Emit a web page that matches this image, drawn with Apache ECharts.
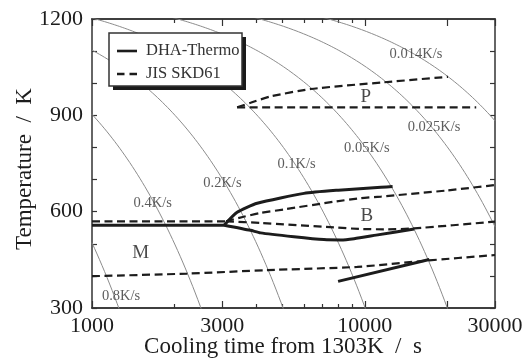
<!DOCTYPE html>
<html>
<head>
<meta charset="utf-8">
<script src="https://cdn.jsdelivr.net/npm/echarts@6/dist/echarts.min.js"></script>
<style>
  html, body { margin: 0; padding: 0; background: #fff; }
  #chart { width: 532px; height: 362px; }
</style>
</head>
<body>
<div id="chart"></div>
<script>
// Constant-rate cooling curves from 1303 K (rates in K/s)
const startTemp = 1303;
const coolingRates = [0.8, 0.4, 0.2, 0.1, 0.05, 0.025, 0.014];

// DHA-Thermo transformation lines, [time s, temperature K]
const dhaMs = [[1000, 558], [3050, 558]];
const dhaBs = [[3050, 558], [3404, 598], [4033, 626], [5987, 657], [8000, 667], [11460, 676], [12640, 678]];
const dhaBf = [[3050, 558], [3811, 542], [4146, 534], [5495, 522], [7080, 513], [8165, 512], [9135, 516], [11000, 527], [15170, 546]];
const dhaLow = [[7980, 383], [17230, 451]];

// JIS SKD61 transformation lines
const jisMs = [[1000, 570], [3100, 570]];
const jisBs = [[3100, 570], [3596, 584], [4146, 596], [5053, 607], [7710, 631], [9660, 642], [11460, 647], [20000, 666], [30000, 683]];
const jisBf = [[3100, 570], [4146, 565], [7710, 551], [9660, 546], [12000, 545], [15170, 548], [30000, 569]];
const jisMf = [[1000, 399], [2229, 407], [4387, 418], [9380, 428], [16540, 447], [30000, 465]];
const jisPs = [[3404, 925], [25600, 925]];
const jisPf = [[3404, 925], [3811, 939], [4515, 959], [6335, 982], [11770, 1003], [20170, 1020]];

// Text annotations anchored in data space
const rateLabels = [
  ['0.014K/s', 15400, 1090], ['0.025K/s', 17940, 862], ['0.05K/s', 10170, 799],
  ['0.1K/s', 5623, 749], ['0.2K/s', 3006, 690], ['0.4K/s', 1669, 627], ['0.8K/s', 1278, 337]
];
const phaseLabels = [['M', 1507, 471], ['B', 10170, 587], ['P', 10085, 958]];

// Axis ticks
const xMajorTicks = [1000, 3000, 10000, 20000, 30000];
const xMinorTicks = [2000, 4000, 5000, 6000, 7000, 8000, 9000];
const xTickLabels = [1000, 3000, 10000, 30000];
const yTickLabels = [300, 600, 900, 1200];

const FONT = "'Liberation Serif', 'DejaVu Serif', serif";
const INK = '#1c1c1c';

// Sample times across the axis range for drawing each cooling curve
function coolingCurve(rate) {
  const pts = [];
  const n = 160;
  const lo = Math.log10(1000), hi = Math.log10(30000);
  for (let i = 0; i <= n; i++) {
    const t = Math.pow(10, lo + (hi - lo) * i / n);
    pts.push([t, startTemp - rate * t]);
  }
  return pts;
}

function xAxisDef(position, ticks, len, labels) {
  return {
    type: 'log', logBase: 10, min: 1000, max: 30000, position: position,
    axisLine: { show: true, lineStyle: { color: '#333', width: 1.5 } },
    axisTick: { show: true, inside: true, length: len, customValues: ticks, lineStyle: { color: '#333', width: 1.2 } },
    axisLabel: labels ? {
      show: true, customValues: labels, margin: 7, color: INK, fontFamily: FONT, fontSize: 22,
      formatter: v => String(Math.round(v))
    } : { show: false },
    splitLine: { show: false }, minorTick: { show: false }
  };
}

function yAxisDef(position, labels) {
  return {
    type: 'value', min: 300, max: 1200, interval: 100, position: position,
    axisLine: { show: true, lineStyle: { color: '#333', width: 1.5 } },
    axisTick: { show: true, inside: true, length: 5, lineStyle: { color: '#333', width: 1.2 } },
    axisLabel: labels ? {
      show: true, margin: 9, color: INK, fontFamily: FONT, fontSize: 22,
      formatter: v => (yTickLabels.indexOf(v) >= 0 ? String(v) : '')
    } : { show: false },
    splitLine: { show: false }
  };
}

const series = [];
coolingRates.forEach(r => {
  series.push({
    type: 'line', data: coolingCurve(r), symbol: 'none', silent: true, z: 1,
    lineStyle: { color: '#8c8c8c', width: 1 }
  });
});

function transLine(data, dashed, smooth) {
  return {
    type: 'line', name: dashed ? 'JIS SKD61' : 'DHA-Thermo', data: data, symbol: 'none', z: 3,
    smooth: smooth ? 0.2 : false,
    lineStyle: dashed ? { color: INK, width: 2.2, type: [8, 4.5] } : { color: INK, width: 3 }
  };
}
series.push(transLine(dhaMs, false, false));
series.push(transLine(dhaBs, false, true));
series.push(transLine(dhaBf, false, true));
series.push(transLine(dhaLow, false, false));
series.push(transLine(jisMs, true, false));
series.push(transLine(jisBs, true, true));
series.push(transLine(jisBf, true, true));
series.push(transLine(jisMf, true, true));
series.push(transLine(jisPs, true, false));
series.push(transLine(jisPf, true, true));

series.push({
  type: 'scatter', symbolSize: 0, z: 4, silent: true,
  data: rateLabels.map(d => ({ name: d[0], value: [d[1], d[2]] })),
  label: { show: true, position: 'inside', formatter: p => p.name, color: '#333', fontFamily: FONT, fontSize: 14.5 }
});
series.push({
  type: 'scatter', symbolSize: 0, z: 4, silent: true,
  data: phaseLabels.map(d => ({ name: d[0], value: [d[1], d[2]] })),
  label: { show: true, position: 'inside', formatter: p => p.name, color: INK, fontFamily: FONT, fontSize: 19 }
});

const chart = echarts.init(document.getElementById('chart'), null, { renderer: 'canvas' });
chart.setOption({
  animation: false,
  backgroundColor: '#fff',
  grid: { left: 92, right: 37, top: 19, bottom: 54, containLabel: false },
  xAxis: [
    xAxisDef('bottom', xMajorTicks, 7, xTickLabels),
    xAxisDef('bottom', xMinorTicks, 4, null),
    xAxisDef('top', xMajorTicks, 7, null),
    xAxisDef('top', xMinorTicks, 4, null)
  ],
  yAxis: [yAxisDef('left', true), yAxisDef('right', false)],
  series: series,
  graphic: [
    // axis titles
    { type: 'text', z: 50, x: 283, y: 347, style: { text: 'Cooling time from 1303K  /  s', font: '23px ' + FONT, fill: INK, textAlign: 'center', textVerticalAlign: 'middle' } },
    { type: 'text', z: 50, x: 25, y: 169, rotation: Math.PI / 2, style: { text: 'Temperature  /  K', font: '23px ' + FONT, fill: INK, textAlign: 'center', textVerticalAlign: 'middle' } },
    // legend box with drop shadow
    { type: 'rect', z: 100, shape: { x: 113, y: 37, width: 133, height: 53 }, style: { fill: '#1a1a1a' } },
    { type: 'rect', z: 101, shape: { x: 109, y: 33, width: 133, height: 53 }, style: { fill: '#fff', stroke: '#333', lineWidth: 1.5 } },
    { type: 'line', z: 102, shape: { x1: 117, y1: 51, x2: 137, y2: 51 }, style: { stroke: INK, lineWidth: 2.6 } },
    { type: 'line', z: 102, shape: { x1: 117, y1: 74, x2: 137, y2: 74 }, style: { stroke: INK, lineWidth: 2.4, lineDash: [7.5, 5] } },
    { type: 'text', z: 102, x: 146, y: 51, style: { text: 'DHA-Thermo', font: '16.5px ' + FONT, fill: '#333', textVerticalAlign: 'middle' } },
    { type: 'text', z: 102, x: 146, y: 74, style: { text: 'JIS SKD61', font: '16.5px ' + FONT, fill: '#333', textVerticalAlign: 'middle' } }
  ]
});
</script>
</body>
</html>
